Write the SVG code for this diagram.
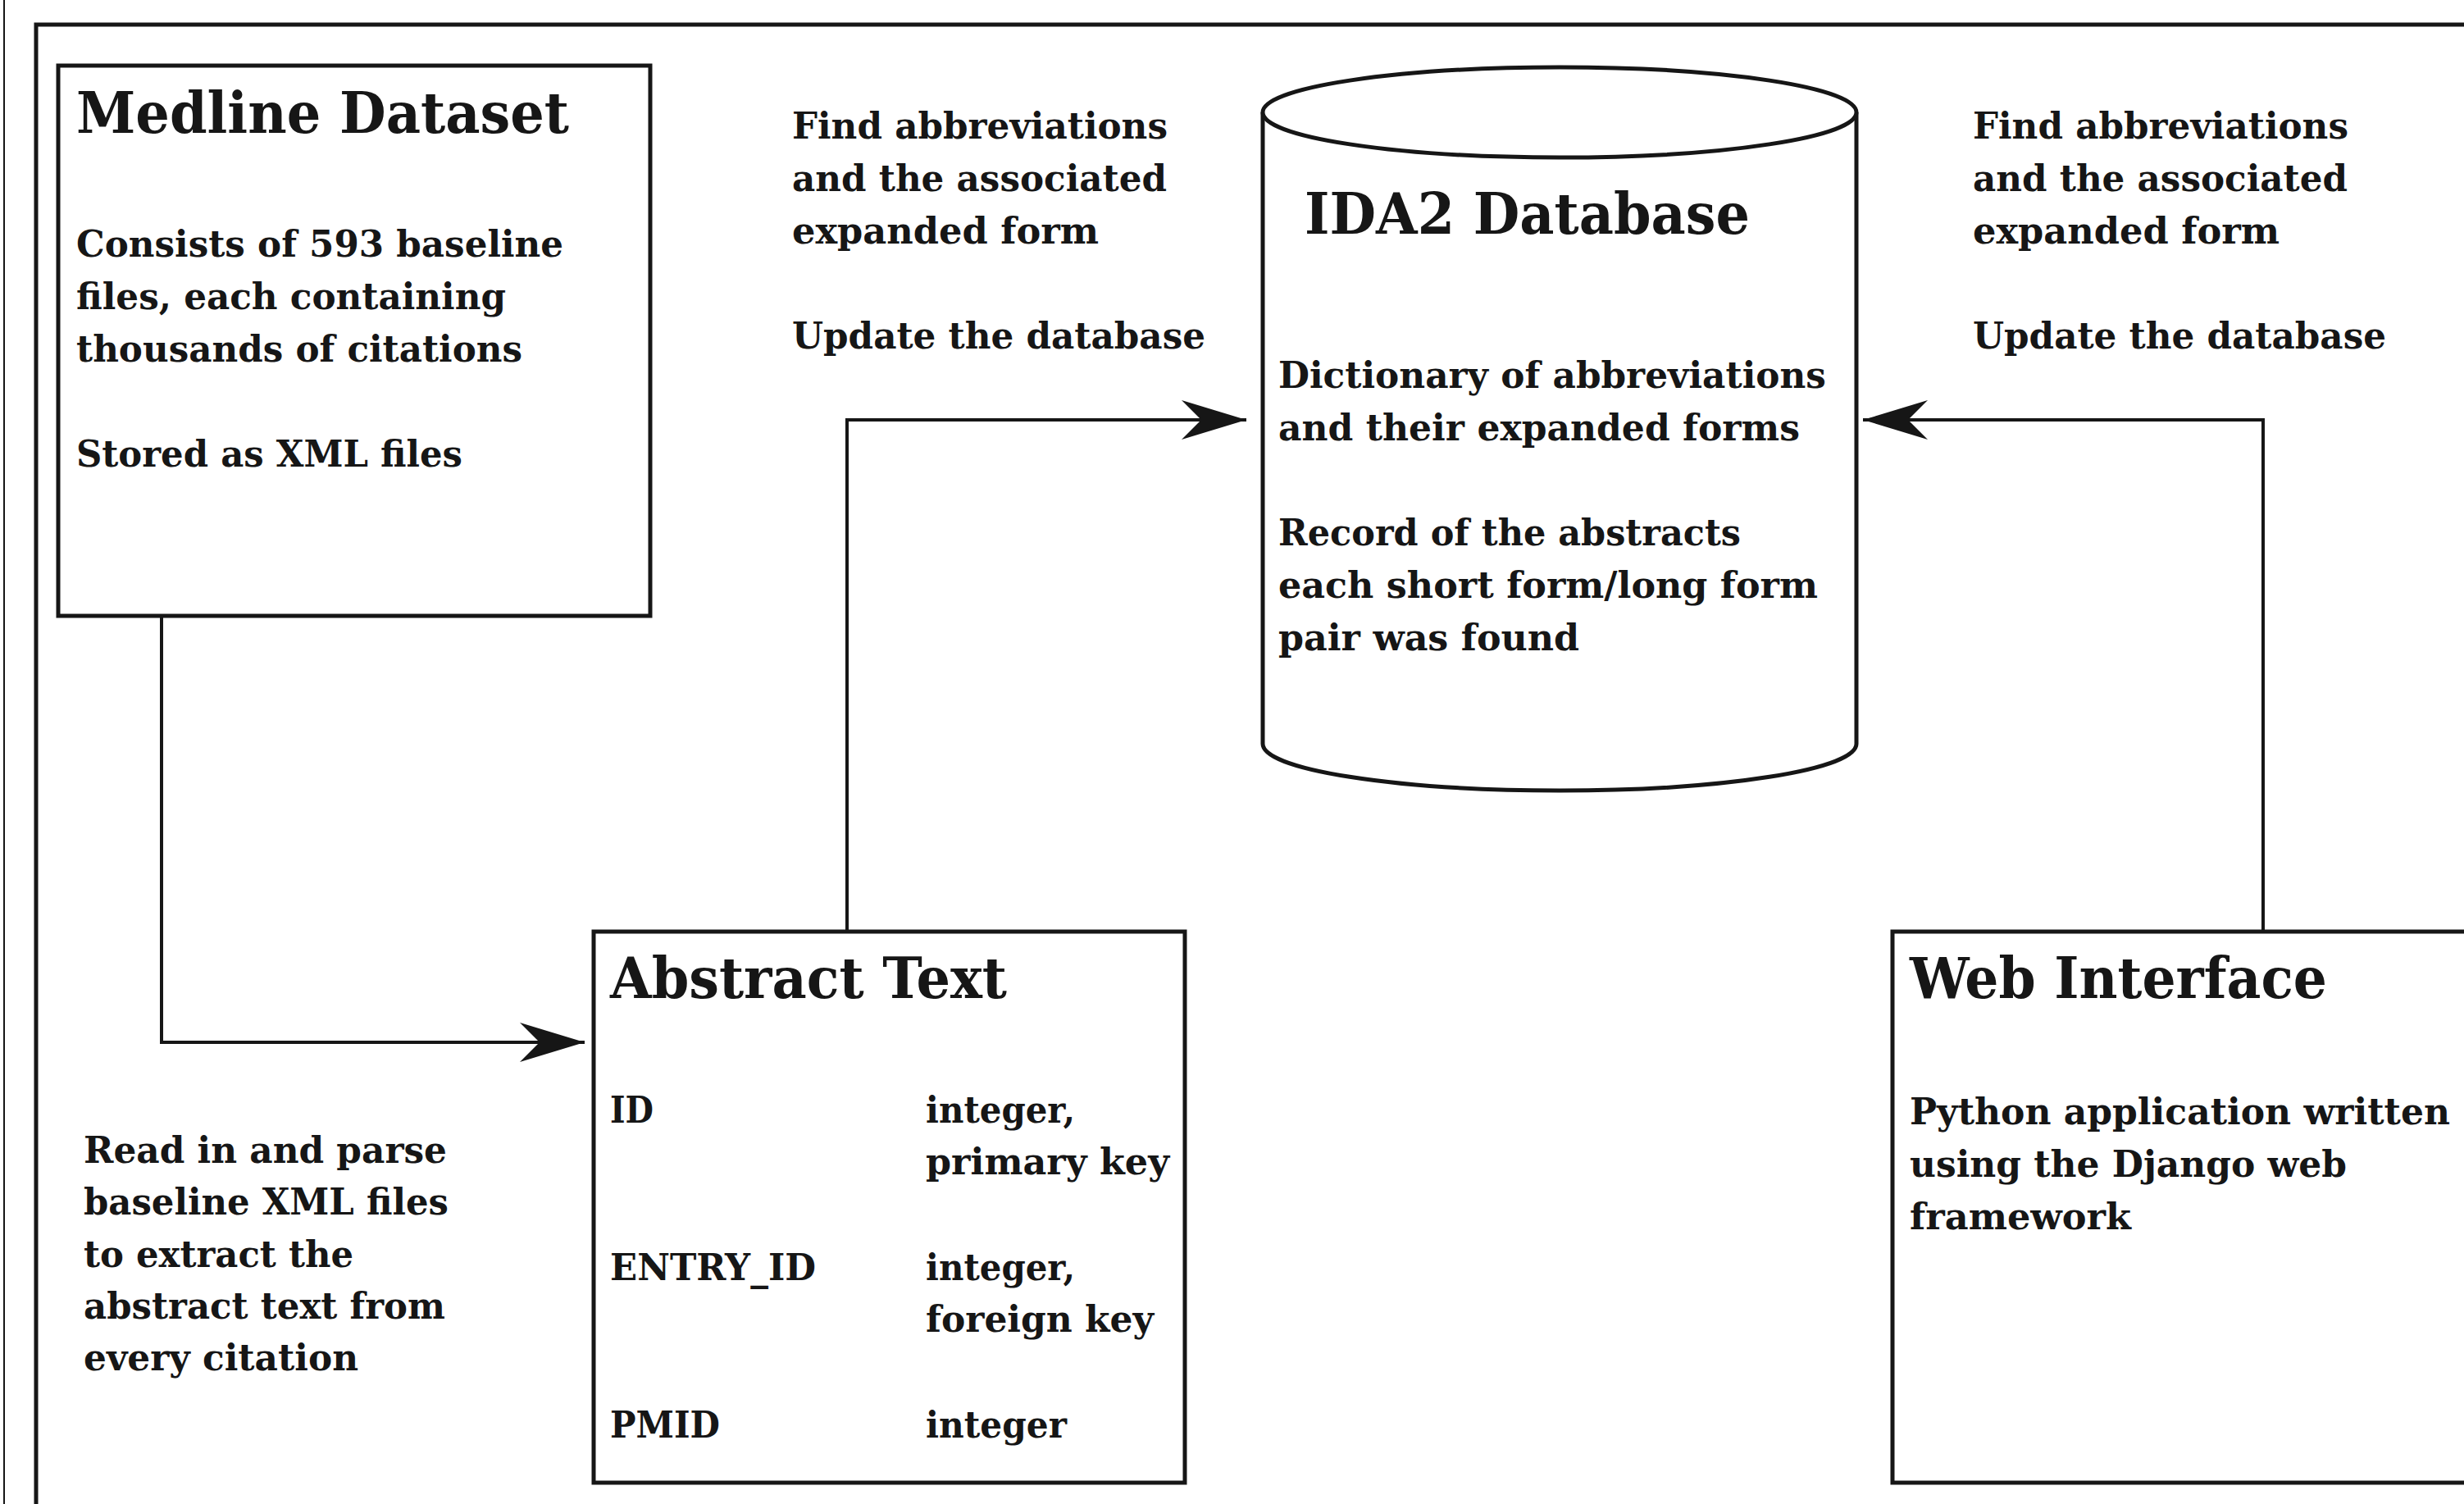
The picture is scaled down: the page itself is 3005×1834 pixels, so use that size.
<svg xmlns="http://www.w3.org/2000/svg" width="3005" height="1834" viewBox="0 0 3005 1834">
  <style>
    text { font-family: "DejaVu Serif", "Liberation Serif", serif; font-weight: bold; fill: #161616; }
    .title { font-size: 70px; }
    .body { font-size: 45px; }
    .box { fill: #ffffff; stroke: #161616; stroke-width: 5; }
    .frame { fill: none; stroke: #161616; }
    .edge { fill: none; stroke: #161616; stroke-width: 4; }
  </style>
  <defs>
    <marker id="arrow" markerUnits="userSpaceOnUse" markerWidth="82" markerHeight="50" refX="79" refY="24" orient="auto" overflow="visible">
      <path d="M0,0 L79,24 L0,48 L24,24 Z" fill="#161616"/>
    </marker>
  </defs>

  <rect x="0" y="0" width="3005" height="1834" fill="#ffffff"/>

  <!-- page frame -->
  <g id="frame">
    <line class="frame" x1="5" y1="0" x2="5" y2="1834" stroke-width="2"/>
    <path class="frame" d="M44,1834 V30 H3005" stroke-width="5"/>
  </g>

  <!-- connectors -->
  <g id="connectors">
    <path class="edge" d="M197,751 V1271 H713" marker-end="url(#arrow)"/>
    <path class="edge" d="M1033,1136 V512 H1520" marker-end="url(#arrow)"/>
    <path class="edge" d="M2760,1136 V512 H2272" marker-end="url(#arrow)"/>
  </g>

  <!-- Medline source -->
  <g id="medline-dataset">
    <rect class="box" x="71" y="80" width="722" height="671"/>
    <text class="title" x="93" y="162" textLength="601" lengthAdjust="spacingAndGlyphs">Medline Dataset</text>
    <text class="body" x="93" y="313" textLength="594" lengthAdjust="spacingAndGlyphs">Consists of 593 baseline</text>
    <text class="body" x="93" y="377" textLength="524" lengthAdjust="spacingAndGlyphs">files, each containing</text>
    <text class="body" x="93" y="441" textLength="544" lengthAdjust="spacingAndGlyphs">thousands of citations</text>
    <text class="body" x="93" y="569" textLength="471" lengthAdjust="spacingAndGlyphs">Stored as XML files</text>
  </g>

  <!-- parsing step label -->
  <g id="parse-label">
    <text class="body" x="102" y="1418" textLength="443" lengthAdjust="spacingAndGlyphs">Read in and parse</text>
    <text class="body" x="102" y="1481" textLength="445" lengthAdjust="spacingAndGlyphs">baseline XML files</text>
    <text class="body" x="102" y="1545" textLength="329" lengthAdjust="spacingAndGlyphs">to extract the</text>
    <text class="body" x="102" y="1608" textLength="441" lengthAdjust="spacingAndGlyphs">abstract text from</text>
    <text class="body" x="102" y="1671" textLength="335" lengthAdjust="spacingAndGlyphs">every citation</text>
  </g>

  <!-- abstract text table -->
  <g id="abstract-text">
    <rect class="box" x="724" y="1136" width="721" height="672"/>
    <text class="title" x="744" y="1217" textLength="484" lengthAdjust="spacingAndGlyphs">Abstract Text</text>
    <text class="body" x="744" y="1369" textLength="53" lengthAdjust="spacingAndGlyphs">ID</text>
    <text class="body" x="1129" y="1369" textLength="182" lengthAdjust="spacingAndGlyphs">integer,</text>
    <text class="body" x="1129" y="1432" textLength="297" lengthAdjust="spacingAndGlyphs">primary key</text>
    <text class="body" x="744" y="1561" textLength="251" lengthAdjust="spacingAndGlyphs">ENTRY_ID</text>
    <text class="body" x="1129" y="1561" textLength="182" lengthAdjust="spacingAndGlyphs">integer,</text>
    <text class="body" x="1129" y="1624" textLength="278" lengthAdjust="spacingAndGlyphs">foreign key</text>
    <text class="body" x="744" y="1753" textLength="134" lengthAdjust="spacingAndGlyphs">PMID</text>
    <text class="body" x="1129" y="1753" textLength="172" lengthAdjust="spacingAndGlyphs">integer</text>
  </g>

  <!-- left update label -->
  <g id="update-label-left">
    <text class="body" x="966" y="169" textLength="458" lengthAdjust="spacingAndGlyphs">Find abbreviations</text>
    <text class="body" x="966" y="233" textLength="457" lengthAdjust="spacingAndGlyphs">and the associated</text>
    <text class="body" x="966" y="297" textLength="374" lengthAdjust="spacingAndGlyphs">expanded form</text>
    <text class="body" x="966" y="425" textLength="504" lengthAdjust="spacingAndGlyphs">Update the database</text>
  </g>

  <!-- database cylinder -->
  <g id="ida2-database">
    <path class="box" d="M1540,137 V907 A362,57 0 0 0 2264,907 V137"/>
    <ellipse class="box" cx="1902" cy="137" rx="362" ry="55"/>
    <text class="title" x="1591" y="285" textLength="543" lengthAdjust="spacingAndGlyphs">IDA2 Database</text>
    <text class="body" x="1559" y="473" textLength="668" lengthAdjust="spacingAndGlyphs">Dictionary of abbreviations</text>
    <text class="body" x="1559" y="537" textLength="636" lengthAdjust="spacingAndGlyphs">and their expanded forms</text>
    <text class="body" x="1559" y="665" textLength="564" lengthAdjust="spacingAndGlyphs">Record of the abstracts</text>
    <text class="body" x="1559" y="729" textLength="658" lengthAdjust="spacingAndGlyphs">each short form/long form</text>
    <text class="body" x="1559" y="793" textLength="367" lengthAdjust="spacingAndGlyphs">pair was found</text>
  </g>

  <!-- right update label -->
  <g id="update-label-right">
    <text class="body" x="2406" y="169" textLength="458" lengthAdjust="spacingAndGlyphs">Find abbreviations</text>
    <text class="body" x="2406" y="233" textLength="457" lengthAdjust="spacingAndGlyphs">and the associated</text>
    <text class="body" x="2406" y="297" textLength="374" lengthAdjust="spacingAndGlyphs">expanded form</text>
    <text class="body" x="2406" y="425" textLength="504" lengthAdjust="spacingAndGlyphs">Update the database</text>
  </g>

  <!-- web front end -->
  <g id="web-interface">
    <rect class="box" x="2308" y="1136" width="800" height="672"/>
    <text class="title" x="2329" y="1217" textLength="509" lengthAdjust="spacingAndGlyphs">Web Interface</text>
    <text class="body" x="2329" y="1371" textLength="659" lengthAdjust="spacingAndGlyphs">Python application written</text>
    <text class="body" x="2329" y="1435" textLength="533" lengthAdjust="spacingAndGlyphs">using the Django web</text>
    <text class="body" x="2329" y="1499" textLength="270" lengthAdjust="spacingAndGlyphs">framework</text>
  </g>
</svg>
